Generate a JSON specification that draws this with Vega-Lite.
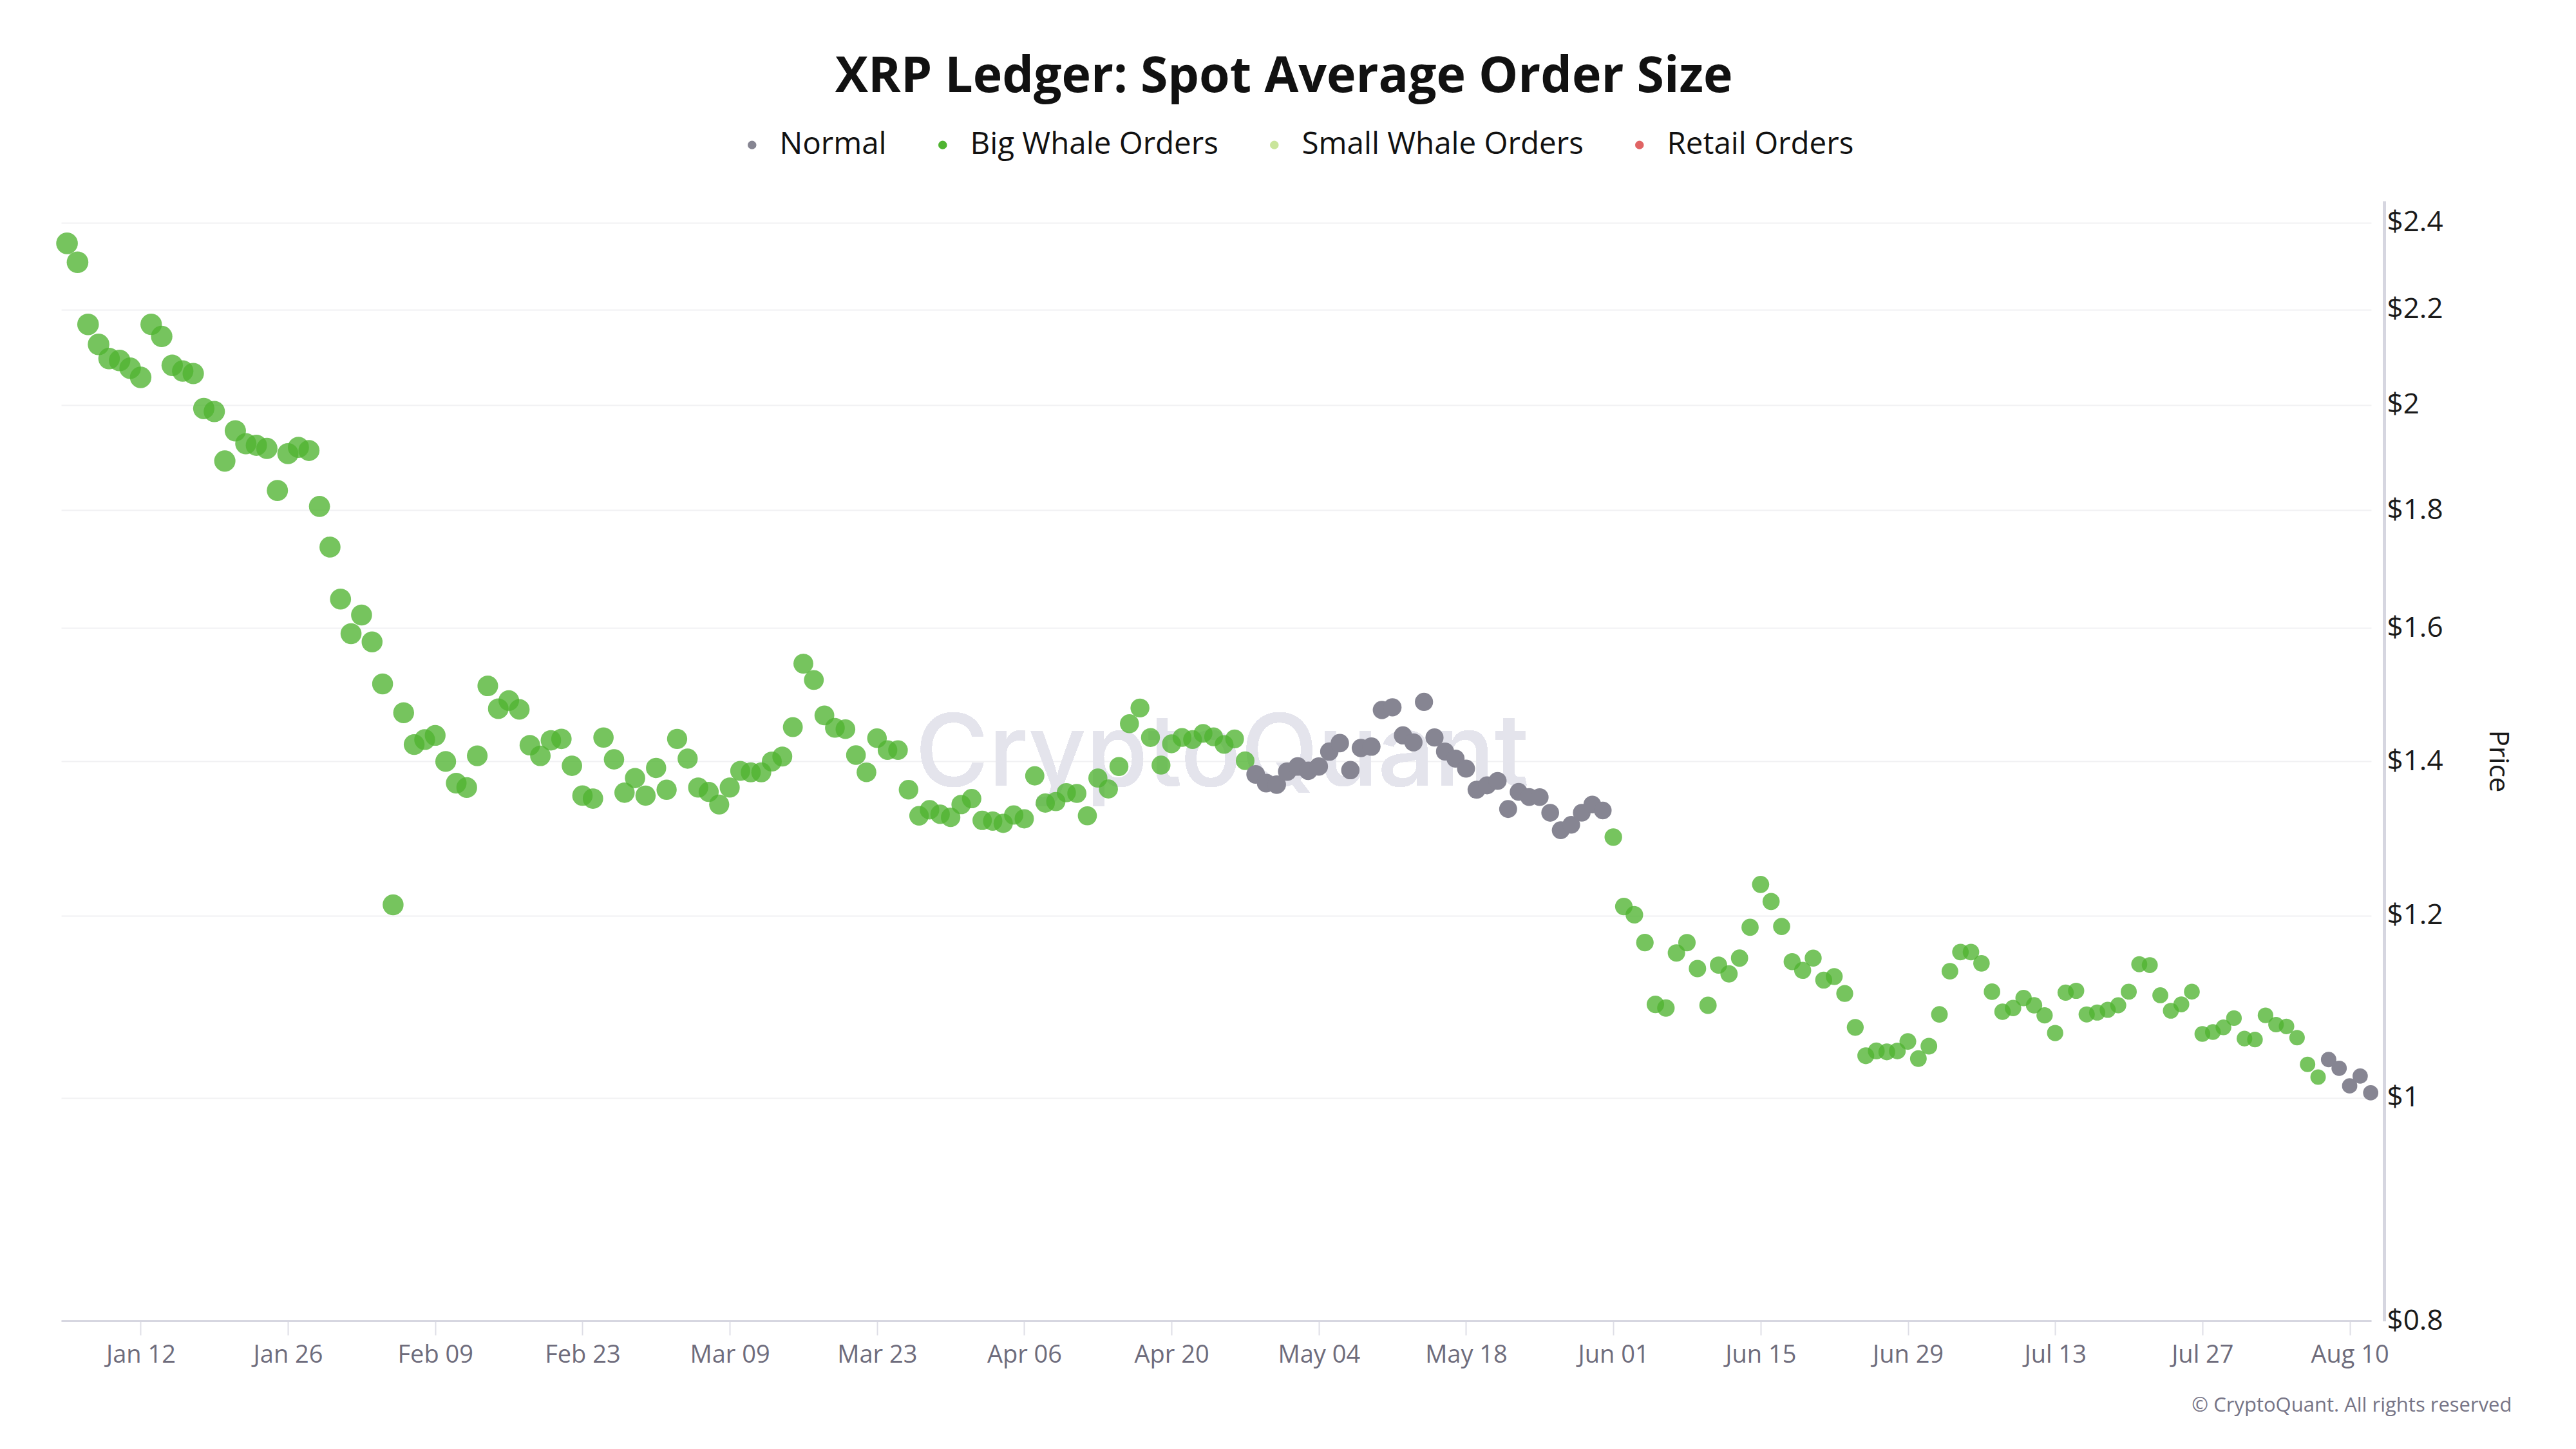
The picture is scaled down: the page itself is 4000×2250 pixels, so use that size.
{
  "$schema": "https://vega.github.io/schema/vega-lite/v6.json",
  "width": 3587,
  "height": 1739,
  "autosize": "none",
  "padding": {"left": 95, "top": 312, "right": 318, "bottom": 199},
  "background": "white",
  "title": {
    "text": "XRP Ledger: Spot Average Order Size",
    "font": "Open Sans",
    "fontSize": 77,
    "fontWeight": "bold",
    "color": "#111111",
    "anchor": "middle",
    "frame": "bounds",
    "offset": 42
  },
  "config": {
    "view": {"stroke": null},
    "font": "Open Sans"
  },
  "data": {
    "values": [
      {"date": "2025-01-05", "price": 2.351, "type": "Big Whale Orders"},
      {"date": "2025-01-06", "price": 2.307, "type": "Big Whale Orders"},
      {"date": "2025-01-07", "price": 2.168, "type": "Big Whale Orders"},
      {"date": "2025-01-08", "price": 2.125, "type": "Big Whale Orders"},
      {"date": "2025-01-09", "price": 2.095, "type": "Big Whale Orders"},
      {"date": "2025-01-10", "price": 2.091, "type": "Big Whale Orders"},
      {"date": "2025-01-11", "price": 2.075, "type": "Big Whale Orders"},
      {"date": "2025-01-12", "price": 2.056, "type": "Big Whale Orders"},
      {"date": "2025-01-13", "price": 2.168, "type": "Big Whale Orders"},
      {"date": "2025-01-14", "price": 2.142, "type": "Big Whale Orders"},
      {"date": "2025-01-15", "price": 2.081, "type": "Big Whale Orders"},
      {"date": "2025-01-16", "price": 2.069, "type": "Big Whale Orders"},
      {"date": "2025-01-17", "price": 2.064, "type": "Big Whale Orders"},
      {"date": "2025-01-18", "price": 1.993, "type": "Big Whale Orders"},
      {"date": "2025-01-19", "price": 1.987, "type": "Big Whale Orders"},
      {"date": "2025-01-20", "price": 1.891, "type": "Big Whale Orders"},
      {"date": "2025-01-21", "price": 1.949, "type": "Big Whale Orders"},
      {"date": "2025-01-22", "price": 1.924, "type": "Big Whale Orders"},
      {"date": "2025-01-23", "price": 1.921, "type": "Big Whale Orders"},
      {"date": "2025-01-24", "price": 1.915, "type": "Big Whale Orders"},
      {"date": "2025-01-25", "price": 1.836, "type": "Big Whale Orders"},
      {"date": "2025-01-26", "price": 1.905, "type": "Big Whale Orders"},
      {"date": "2025-01-27", "price": 1.917, "type": "Big Whale Orders"},
      {"date": "2025-01-28", "price": 1.911, "type": "Big Whale Orders"},
      {"date": "2025-01-29", "price": 1.807, "type": "Big Whale Orders"},
      {"date": "2025-01-30", "price": 1.735, "type": "Big Whale Orders"},
      {"date": "2025-01-31", "price": 1.647, "type": "Big Whale Orders"},
      {"date": "2025-02-01", "price": 1.591, "type": "Big Whale Orders"},
      {"date": "2025-02-02", "price": 1.621, "type": "Big Whale Orders"},
      {"date": "2025-02-03", "price": 1.578, "type": "Big Whale Orders"},
      {"date": "2025-02-04", "price": 1.513, "type": "Big Whale Orders"},
      {"date": "2025-02-05", "price": 1.213, "type": "Big Whale Orders"},
      {"date": "2025-02-06", "price": 1.470, "type": "Big Whale Orders"},
      {"date": "2025-02-07", "price": 1.424, "type": "Big Whale Orders"},
      {"date": "2025-02-08", "price": 1.431, "type": "Big Whale Orders"},
      {"date": "2025-02-09", "price": 1.437, "type": "Big Whale Orders"},
      {"date": "2025-02-10", "price": 1.400, "type": "Big Whale Orders"},
      {"date": "2025-02-11", "price": 1.370, "type": "Big Whale Orders"},
      {"date": "2025-02-12", "price": 1.364, "type": "Big Whale Orders"},
      {"date": "2025-02-13", "price": 1.408, "type": "Big Whale Orders"},
      {"date": "2025-02-14", "price": 1.510, "type": "Big Whale Orders"},
      {"date": "2025-02-15", "price": 1.476, "type": "Big Whale Orders"},
      {"date": "2025-02-16", "price": 1.488, "type": "Big Whale Orders"},
      {"date": "2025-02-17", "price": 1.475, "type": "Big Whale Orders"},
      {"date": "2025-02-18", "price": 1.423, "type": "Big Whale Orders"},
      {"date": "2025-02-19", "price": 1.408, "type": "Big Whale Orders"},
      {"date": "2025-02-20", "price": 1.430, "type": "Big Whale Orders"},
      {"date": "2025-02-21", "price": 1.432, "type": "Big Whale Orders"},
      {"date": "2025-02-22", "price": 1.394, "type": "Big Whale Orders"},
      {"date": "2025-02-23", "price": 1.353, "type": "Big Whale Orders"},
      {"date": "2025-02-24", "price": 1.349, "type": "Big Whale Orders"},
      {"date": "2025-02-25", "price": 1.434, "type": "Big Whale Orders"},
      {"date": "2025-02-26", "price": 1.403, "type": "Big Whale Orders"},
      {"date": "2025-02-27", "price": 1.357, "type": "Big Whale Orders"},
      {"date": "2025-02-28", "price": 1.377, "type": "Big Whale Orders"},
      {"date": "2025-03-01", "price": 1.353, "type": "Big Whale Orders"},
      {"date": "2025-03-02", "price": 1.391, "type": "Big Whale Orders"},
      {"date": "2025-03-03", "price": 1.361, "type": "Big Whale Orders"},
      {"date": "2025-03-04", "price": 1.432, "type": "Big Whale Orders"},
      {"date": "2025-03-05", "price": 1.404, "type": "Big Whale Orders"},
      {"date": "2025-03-06", "price": 1.364, "type": "Big Whale Orders"},
      {"date": "2025-03-07", "price": 1.358, "type": "Big Whale Orders"},
      {"date": "2025-03-08", "price": 1.341, "type": "Big Whale Orders"},
      {"date": "2025-03-09", "price": 1.364, "type": "Big Whale Orders"},
      {"date": "2025-03-10", "price": 1.387, "type": "Big Whale Orders"},
      {"date": "2025-03-11", "price": 1.385, "type": "Big Whale Orders"},
      {"date": "2025-03-12", "price": 1.385, "type": "Big Whale Orders"},
      {"date": "2025-03-13", "price": 1.400, "type": "Big Whale Orders"},
      {"date": "2025-03-14", "price": 1.407, "type": "Big Whale Orders"},
      {"date": "2025-03-15", "price": 1.449, "type": "Big Whale Orders"},
      {"date": "2025-03-16", "price": 1.544, "type": "Big Whale Orders"},
      {"date": "2025-03-17", "price": 1.519, "type": "Big Whale Orders"},
      {"date": "2025-03-18", "price": 1.466, "type": "Big Whale Orders"},
      {"date": "2025-03-19", "price": 1.448, "type": "Big Whale Orders"},
      {"date": "2025-03-20", "price": 1.446, "type": "Big Whale Orders"},
      {"date": "2025-03-21", "price": 1.409, "type": "Big Whale Orders"},
      {"date": "2025-03-22", "price": 1.385, "type": "Big Whale Orders"},
      {"date": "2025-03-23", "price": 1.433, "type": "Big Whale Orders"},
      {"date": "2025-03-24", "price": 1.416, "type": "Big Whale Orders"},
      {"date": "2025-03-25", "price": 1.416, "type": "Big Whale Orders"},
      {"date": "2025-03-26", "price": 1.361, "type": "Big Whale Orders"},
      {"date": "2025-03-27", "price": 1.326, "type": "Big Whale Orders"},
      {"date": "2025-03-28", "price": 1.334, "type": "Big Whale Orders"},
      {"date": "2025-03-29", "price": 1.328, "type": "Big Whale Orders"},
      {"date": "2025-03-30", "price": 1.324, "type": "Big Whale Orders"},
      {"date": "2025-03-31", "price": 1.341, "type": "Big Whale Orders"},
      {"date": "2025-04-01", "price": 1.349, "type": "Big Whale Orders"},
      {"date": "2025-04-02", "price": 1.320, "type": "Big Whale Orders"},
      {"date": "2025-04-03", "price": 1.319, "type": "Big Whale Orders"},
      {"date": "2025-04-04", "price": 1.316, "type": "Big Whale Orders"},
      {"date": "2025-04-05", "price": 1.327, "type": "Big Whale Orders"},
      {"date": "2025-04-06", "price": 1.322, "type": "Big Whale Orders"},
      {"date": "2025-04-07", "price": 1.380, "type": "Big Whale Orders"},
      {"date": "2025-04-08", "price": 1.343, "type": "Big Whale Orders"},
      {"date": "2025-04-09", "price": 1.345, "type": "Big Whale Orders"},
      {"date": "2025-04-10", "price": 1.357, "type": "Big Whale Orders"},
      {"date": "2025-04-11", "price": 1.356, "type": "Big Whale Orders"},
      {"date": "2025-04-12", "price": 1.326, "type": "Big Whale Orders"},
      {"date": "2025-04-13", "price": 1.377, "type": "Big Whale Orders"},
      {"date": "2025-04-14", "price": 1.362, "type": "Big Whale Orders"},
      {"date": "2025-04-15", "price": 1.393, "type": "Big Whale Orders"},
      {"date": "2025-04-16", "price": 1.454, "type": "Big Whale Orders"},
      {"date": "2025-04-17", "price": 1.477, "type": "Big Whale Orders"},
      {"date": "2025-04-18", "price": 1.434, "type": "Big Whale Orders"},
      {"date": "2025-04-19", "price": 1.395, "type": "Big Whale Orders"},
      {"date": "2025-04-20", "price": 1.425, "type": "Big Whale Orders"},
      {"date": "2025-04-21", "price": 1.434, "type": "Big Whale Orders"},
      {"date": "2025-04-22", "price": 1.431, "type": "Big Whale Orders"},
      {"date": "2025-04-23", "price": 1.440, "type": "Big Whale Orders"},
      {"date": "2025-04-24", "price": 1.435, "type": "Big Whale Orders"},
      {"date": "2025-04-25", "price": 1.424, "type": "Big Whale Orders"},
      {"date": "2025-04-26", "price": 1.432, "type": "Big Whale Orders"},
      {"date": "2025-04-27", "price": 1.401, "type": "Big Whale Orders"},
      {"date": "2025-04-28", "price": 1.382, "type": "Normal"},
      {"date": "2025-04-29", "price": 1.370, "type": "Normal"},
      {"date": "2025-04-30", "price": 1.368, "type": "Normal"},
      {"date": "2025-05-01", "price": 1.386, "type": "Normal"},
      {"date": "2025-05-02", "price": 1.393, "type": "Normal"},
      {"date": "2025-05-03", "price": 1.387, "type": "Normal"},
      {"date": "2025-05-04", "price": 1.393, "type": "Normal"},
      {"date": "2025-05-05", "price": 1.414, "type": "Normal"},
      {"date": "2025-05-06", "price": 1.426, "type": "Normal"},
      {"date": "2025-05-07", "price": 1.388, "type": "Normal"},
      {"date": "2025-05-08", "price": 1.419, "type": "Normal"},
      {"date": "2025-05-09", "price": 1.421, "type": "Normal"},
      {"date": "2025-05-10", "price": 1.474, "type": "Normal"},
      {"date": "2025-05-11", "price": 1.478, "type": "Normal"},
      {"date": "2025-05-12", "price": 1.437, "type": "Normal"},
      {"date": "2025-05-13", "price": 1.427, "type": "Normal"},
      {"date": "2025-05-14", "price": 1.486, "type": "Normal"},
      {"date": "2025-05-15", "price": 1.434, "type": "Normal"},
      {"date": "2025-05-16", "price": 1.414, "type": "Normal"},
      {"date": "2025-05-17", "price": 1.404, "type": "Normal"},
      {"date": "2025-05-18", "price": 1.390, "type": "Normal"},
      {"date": "2025-05-19", "price": 1.361, "type": "Normal"},
      {"date": "2025-05-20", "price": 1.367, "type": "Normal"},
      {"date": "2025-05-21", "price": 1.373, "type": "Normal"},
      {"date": "2025-05-22", "price": 1.335, "type": "Normal"},
      {"date": "2025-05-23", "price": 1.358, "type": "Normal"},
      {"date": "2025-05-24", "price": 1.351, "type": "Normal"},
      {"date": "2025-05-25", "price": 1.351, "type": "Normal"},
      {"date": "2025-05-26", "price": 1.330, "type": "Normal"},
      {"date": "2025-05-27", "price": 1.307, "type": "Normal"},
      {"date": "2025-05-28", "price": 1.314, "type": "Normal"},
      {"date": "2025-05-29", "price": 1.330, "type": "Normal"},
      {"date": "2025-05-30", "price": 1.341, "type": "Normal"},
      {"date": "2025-05-31", "price": 1.333, "type": "Normal"},
      {"date": "2025-06-01", "price": 1.298, "type": "Big Whale Orders"},
      {"date": "2025-06-02", "price": 1.211, "type": "Big Whale Orders"},
      {"date": "2025-06-03", "price": 1.201, "type": "Big Whale Orders"},
      {"date": "2025-06-04", "price": 1.168, "type": "Big Whale Orders"},
      {"date": "2025-06-05", "price": 1.098, "type": "Big Whale Orders"},
      {"date": "2025-06-06", "price": 1.094, "type": "Big Whale Orders"},
      {"date": "2025-06-07", "price": 1.156, "type": "Big Whale Orders"},
      {"date": "2025-06-08", "price": 1.168, "type": "Big Whale Orders"},
      {"date": "2025-06-09", "price": 1.138, "type": "Big Whale Orders"},
      {"date": "2025-06-10", "price": 1.097, "type": "Big Whale Orders"},
      {"date": "2025-06-11", "price": 1.142, "type": "Big Whale Orders"},
      {"date": "2025-06-12", "price": 1.132, "type": "Big Whale Orders"},
      {"date": "2025-06-13", "price": 1.150, "type": "Big Whale Orders"},
      {"date": "2025-06-14", "price": 1.186, "type": "Big Whale Orders"},
      {"date": "2025-06-15", "price": 1.238, "type": "Big Whale Orders"},
      {"date": "2025-06-16", "price": 1.217, "type": "Big Whale Orders"},
      {"date": "2025-06-17", "price": 1.187, "type": "Big Whale Orders"},
      {"date": "2025-06-18", "price": 1.146, "type": "Big Whale Orders"},
      {"date": "2025-06-19", "price": 1.136, "type": "Big Whale Orders"},
      {"date": "2025-06-20", "price": 1.150, "type": "Big Whale Orders"},
      {"date": "2025-06-21", "price": 1.125, "type": "Big Whale Orders"},
      {"date": "2025-06-22", "price": 1.129, "type": "Big Whale Orders"},
      {"date": "2025-06-23", "price": 1.110, "type": "Big Whale Orders"},
      {"date": "2025-06-24", "price": 1.073, "type": "Big Whale Orders"},
      {"date": "2025-06-25", "price": 1.043, "type": "Big Whale Orders"},
      {"date": "2025-06-26", "price": 1.048, "type": "Big Whale Orders"},
      {"date": "2025-06-27", "price": 1.047, "type": "Big Whale Orders"},
      {"date": "2025-06-28", "price": 1.048, "type": "Big Whale Orders"},
      {"date": "2025-06-29", "price": 1.058, "type": "Big Whale Orders"},
      {"date": "2025-06-30", "price": 1.040, "type": "Big Whale Orders"},
      {"date": "2025-07-01", "price": 1.053, "type": "Big Whale Orders"},
      {"date": "2025-07-02", "price": 1.087, "type": "Big Whale Orders"},
      {"date": "2025-07-03", "price": 1.135, "type": "Big Whale Orders"},
      {"date": "2025-07-04", "price": 1.157, "type": "Big Whale Orders"},
      {"date": "2025-07-05", "price": 1.157, "type": "Big Whale Orders"},
      {"date": "2025-07-06", "price": 1.144, "type": "Big Whale Orders"},
      {"date": "2025-07-07", "price": 1.112, "type": "Big Whale Orders"},
      {"date": "2025-07-08", "price": 1.090, "type": "Big Whale Orders"},
      {"date": "2025-07-09", "price": 1.094, "type": "Big Whale Orders"},
      {"date": "2025-07-10", "price": 1.105, "type": "Big Whale Orders"},
      {"date": "2025-07-11", "price": 1.097, "type": "Big Whale Orders"},
      {"date": "2025-07-12", "price": 1.086, "type": "Big Whale Orders"},
      {"date": "2025-07-13", "price": 1.067, "type": "Big Whale Orders"},
      {"date": "2025-07-14", "price": 1.111, "type": "Big Whale Orders"},
      {"date": "2025-07-15", "price": 1.113, "type": "Big Whale Orders"},
      {"date": "2025-07-16", "price": 1.087, "type": "Big Whale Orders"},
      {"date": "2025-07-17", "price": 1.089, "type": "Big Whale Orders"},
      {"date": "2025-07-18", "price": 1.092, "type": "Big Whale Orders"},
      {"date": "2025-07-19", "price": 1.097, "type": "Big Whale Orders"},
      {"date": "2025-07-20", "price": 1.112, "type": "Big Whale Orders"},
      {"date": "2025-07-21", "price": 1.143, "type": "Big Whale Orders"},
      {"date": "2025-07-22", "price": 1.142, "type": "Big Whale Orders"},
      {"date": "2025-07-23", "price": 1.108, "type": "Big Whale Orders"},
      {"date": "2025-07-24", "price": 1.091, "type": "Big Whale Orders"},
      {"date": "2025-07-25", "price": 1.098, "type": "Big Whale Orders"},
      {"date": "2025-07-26", "price": 1.112, "type": "Big Whale Orders"},
      {"date": "2025-07-27", "price": 1.066, "type": "Big Whale Orders"},
      {"date": "2025-07-28", "price": 1.068, "type": "Big Whale Orders"},
      {"date": "2025-07-29", "price": 1.073, "type": "Big Whale Orders"},
      {"date": "2025-07-30", "price": 1.083, "type": "Big Whale Orders"},
      {"date": "2025-07-31", "price": 1.061, "type": "Big Whale Orders"},
      {"date": "2025-08-01", "price": 1.060, "type": "Big Whale Orders"},
      {"date": "2025-08-02", "price": 1.086, "type": "Big Whale Orders"},
      {"date": "2025-08-03", "price": 1.076, "type": "Big Whale Orders"},
      {"date": "2025-08-04", "price": 1.074, "type": "Big Whale Orders"},
      {"date": "2025-08-05", "price": 1.062, "type": "Big Whale Orders"},
      {"date": "2025-08-06", "price": 1.034, "type": "Big Whale Orders"},
      {"date": "2025-08-07", "price": 1.021, "type": "Big Whale Orders"},
      {"date": "2025-08-08", "price": 1.039, "type": "Normal"},
      {"date": "2025-08-09", "price": 1.030, "type": "Normal"},
      {"date": "2025-08-10", "price": 1.012, "type": "Normal"},
      {"date": "2025-08-11", "price": 1.022, "type": "Normal"},
      {"date": "2025-08-12", "price": 1.005, "type": "Normal"}
    ]
  },
  "encoding": {
    "x": {
      "field": "date",
      "type": "temporal",
      "scale": {
        "type": "utc",
        "domain": [
          {"year": 2025, "month": 1, "date": 4, "hours": 10, "minutes": 40, "utc": true},
          {"year": 2025, "month": 8, "date": 12, "hours": 1, "minutes": 10, "utc": true}
        ]
      },
      "axis": {
        "values": [
          {"year": 2025, "month": 1, "date": 12, "utc": true},
          {"year": 2025, "month": 1, "date": 26, "utc": true},
          {"year": 2025, "month": 2, "date": 9, "utc": true},
          {"year": 2025, "month": 2, "date": 23, "utc": true},
          {"year": 2025, "month": 3, "date": 9, "utc": true},
          {"year": 2025, "month": 3, "date": 23, "utc": true},
          {"year": 2025, "month": 4, "date": 6, "utc": true},
          {"year": 2025, "month": 4, "date": 20, "utc": true},
          {"year": 2025, "month": 5, "date": 4, "utc": true},
          {"year": 2025, "month": 5, "date": 18, "utc": true},
          {"year": 2025, "month": 6, "date": 1, "utc": true},
          {"year": 2025, "month": 6, "date": 15, "utc": true},
          {"year": 2025, "month": 6, "date": 29, "utc": true},
          {"year": 2025, "month": 7, "date": 13, "utc": true},
          {"year": 2025, "month": 7, "date": 27, "utc": true},
          {"year": 2025, "month": 8, "date": 10, "utc": true}
        ],
        "labelExpr": "utcFormat(datum.value, '%b %d')",
        "grid": false,
        "domainColor": "#d6d6e0",
        "domainWidth": 3,
        "tickColor": "#dedee6",
        "tickWidth": 2,
        "tickSize": 22,
        "labelFont": "Open Sans",
        "labelFontSize": 38,
        "labelColor": "#6e6c7c",
        "labelPadding": 12,
        "title": "© CryptoQuant. All rights reserved",
        "titleFont": "Open Sans",
        "titleFontSize": 31,
        "titleFontWeight": "normal",
        "titleColor": "#767486",
        "titleAnchor": "end",
        "titleAlign": "right",
        "titleBaseline": "middle",
        "titleX": 3805,
        "titleY": 131
      }
    },
    "y": {
      "field": "price",
      "type": "quantitative",
      "scale": {"type": "log", "domain": [0.8, 2.453], "nice": false},
      "axis": {
        "orient": "right",
        "offset": 20,
        "values": [0.8, 1, 1.2, 1.4, 1.6, 1.8, 2, 2.2, 2.4],
        "labelExpr": "'$' + datum.value",
        "ticks": false,
        "grid": true,
        "gridColor": "#f1f1f3",
        "gridWidth": 2,
        "domainColor": "#d6d6e0",
        "domainWidth": 5,
        "labelFont": "Open Sans",
        "labelFontSize": 44,
        "labelColor": "#1a1a1a",
        "labelPadding": 4,
        "title": "Price",
        "titleFont": "Open Sans",
        "titleFontSize": 42,
        "titleFontWeight": "normal",
        "titleColor": "#1a1a1a",
        "titlePadding": 63
      }
    }
  },
  "layer": [
    {
      "mark": {
        "type": "text",
        "text": "CryptoQuant",
        "font": "Inter",
        "fontSize": 155,
        "fontWeight": 500,
        "color": "#e4e4ec",
        "align": "center",
        "baseline": "middle"
      },
      "encoding": {
        "x": {"datum": {"year": 2025, "month": 4, "date": 24, "hours": 19, "utc": true}, "type": "temporal"},
        "y": {"datum": 1.409, "type": "quantitative"}
      }
    },
    {
      "mark": {"type": "circle", "strokeWidth": 0},
      "encoding": {
        "color": {
          "field": "type",
          "type": "nominal",
          "scale": {
            "domain": ["Normal", "Big Whale Orders", "Small Whale Orders", "Retail Orders"],
            "range": ["#868592", "#4fb431", "#c9e59b", "#e06464"]
          },
          "legend": {
            "title": null,
            "orient": "none",
            "direction": "horizontal",
            "legendX": 1049,
            "legendY": -111,
            "symbolType": "circle",
            "symbolSize": 180,
            "symbolOpacity": 1,
            "symbolStrokeWidth": 0,
            "labelFont": "Open Sans",
            "labelFontSize": 47.5,
            "labelColor": "#111111",
            "labelLimit": 1000,
            "labelOffset": 19,
            "columnPadding": 63
          }
        },
        "opacity": {
          "condition": {"test": "datum.type === 'Normal'", "value": 1},
          "value": 0.78
        },
        "size": {
          "field": "date",
          "type": "temporal",
          "scale": {"range": [1134, 560]},
          "legend": null
        }
      }
    }
  ]
}
